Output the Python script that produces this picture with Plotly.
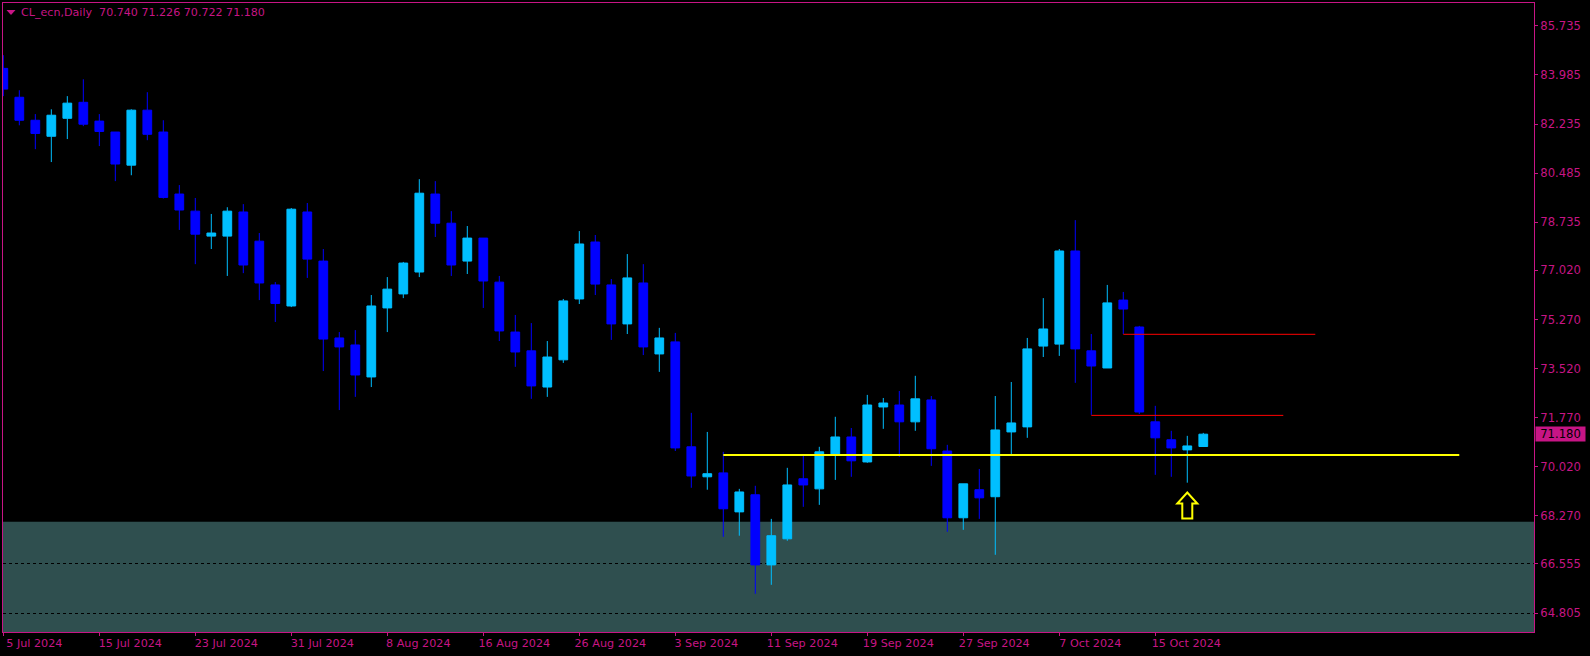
import plotly.graph_objects as go

PINK = "#C71585"
UP = "#00BFFF"
DOWN = "#0000FF"

opens = [84.22,83.19,82.37,81.80,82.44,83.01,82.34,81.95,80.77,82.73,
         81.95,79.74,79.13,78.24,78.24,79.10,78.06,76.50,75.75,79.10,
         77.35,74.61,74.36,73.22,75.68,76.18,76.96,79.74,78.70,77.35,
         78.17,76.60,74.82,74.15,72.86,73.83,76.00,78.03,76.50,75.11,
         76.57,74.04,74.47,70.73,69.66,69.80,68.41,69.02,66.52,67.45,
         69.59,69.23,70.44,71.08,70.19,72.15,72.22,71.62,72.40,70.58,
         68.20,69.20,68.95,71.26,71.44,74.32,74.39,77.71,74.15,73.54,
         75.96,75.00,71.62,70.98,70.62,70.74]
closes = [83.48,82.37,81.90,82.55,82.98,82.23,81.97,80.81,82.73,81.87,
          79.62,79.17,78.31,78.35,79.13,77.21,76.57,75.84,79.20,77.42,
          74.57,74.29,73.29,75.75,76.35,77.28,79.77,78.70,77.21,78.17,
          76.64,74.86,74.11,72.90,73.93,75.93,77.96,76.53,75.11,76.75,
          74.29,74.61,70.69,69.69,69.77,68.52,69.12,66.52,67.56,69.37,
          69.37,70.55,71.08,70.23,72.22,72.29,71.62,72.44,70.66,68.20,
          69.41,68.91,71.33,71.58,74.22,74.93,77.71,74.22,73.61,75.86,
          75.64,71.97,71.05,70.69,70.76,71.18]
highs = [84.69,83.44,82.59,82.76,83.23,83.83,82.59,81.95,82.76,83.37,
         82.37,80.06,79.60,79.03,79.27,79.38,78.35,76.60,79.24,79.42,
         77.78,74.82,74.89,76.14,76.78,77.32,80.27,80.20,79.13,78.60,
         78.17,76.82,75.43,75.14,74.50,76.00,78.42,78.28,76.71,77.60,
         77.24,74.97,74.79,71.94,71.26,70.55,69.23,69.34,68.16,69.98,
         70.41,70.73,71.80,71.40,72.58,72.47,72.72,73.26,72.54,70.80,
         69.41,69.94,72.54,73.04,74.61,76.03,77.78,78.81,74.75,76.50,
         76.25,75.04,72.19,71.30,71.12,71.226]
lows = [83.23,82.19,81.34,80.88,81.70,82.16,81.45,80.20,80.41,81.66,
        79.58,78.46,77.24,77.78,76.82,76.92,75.96,75.18,75.71,76.75,
        73.43,72.04,72.51,72.86,74.82,76.03,76.78,78.21,76.82,76.89,
        75.68,74.50,73.58,72.44,72.51,73.72,75.82,76.14,74.54,74.75,
        74.00,73.40,70.58,69.27,69.20,67.52,67.56,65.49,65.81,67.38,
        68.59,68.66,69.55,69.66,70.16,71.37,70.37,71.30,70.05,67.70,
        67.77,68.16,66.88,70.44,71.05,73.93,73.97,73.01,71.87,73.54,
        74.75,71.90,69.73,69.66,69.45,70.722]

x_tick_index = [0, 6, 12, 18, 24, 30, 36, 42, 48, 54, 60, 66, 72]
x_tick_labels = ["5 Jul 2024", "15 Jul 2024", "23 Jul 2024", "31 Jul 2024", "8 Aug 2024",
                 "16 Aug 2024", "26 Aug 2024", "3 Sep 2024", "11 Sep 2024", "19 Sep 2024",
                 "27 Sep 2024", "7 Oct 2024", "15 Oct 2024"]
y_ticks = [85.735, 83.985, 82.235, 80.485, 78.735, 77.020, 75.270,
           73.520, 71.770, 70.020, 68.270, 66.555, 64.805]

header = "CL_ecn,Daily  70.740 71.226 70.722 71.180"
last_price = 71.18
zone_top = 68.06
yellow_level, yellow_from, yellow_to = 70.44, 45, 91
red_upper_level, red_upper_from, red_upper_to = 74.74, 70, 82
red_lower_level, red_lower_from, red_lower_to = 71.85, 68, 80
arrow_bar, arrow_base = 74, 68.17
FONT_SIZE = 11.6

fig = go.Figure()
fig.add_trace(go.Candlestick(
    x=list(range(len(opens))), open=opens, high=highs, low=lows, close=closes,
    increasing=dict(line=dict(color=UP, width=1), fillcolor=UP),
    decreasing=dict(line=dict(color=DOWN, width=1), fillcolor=DOWN),
    whiskerwidth=0, hoverinfo="skip", showlegend=False,
))

# demand zone under the gridlines
fig.add_shape(type="rect", xref="paper", x0=0, x1=1, yref="y", y0=50, y1=zone_top,
              fillcolor="#2F4F4F", line_width=0, layer="below")
fig.add_shape(type="line", x0=red_upper_from, x1=red_upper_to, y0=red_upper_level, y1=red_upper_level,
              line=dict(color="#FF0000", width=1))
fig.add_shape(type="line", x0=red_lower_from, x1=red_lower_to, y0=red_lower_level, y1=red_lower_level,
              line=dict(color="#FF0000", width=1))
fig.add_shape(type="line", x0=yellow_from, x1=yellow_to, y0=yellow_level, y1=yellow_level,
              line=dict(color="#FFFF00", width=2))
fig.add_shape(type="path", xsizemode="pixel", xanchor=arrow_bar, ysizemode="pixel", yanchor=arrow_base,
              path="M-5,0 L5,0 L5,15 L10,15 L0,26 L-10,15 L-5,15 Z",
              line=dict(color="#FFFF00", width=2), fillcolor="#000000")
# collapse marker in the chart header
fig.add_shape(type="path", xref="paper", yref="paper", xsizemode="pixel", xanchor=0,
              ysizemode="pixel", yanchor=1, path="M3.5,-7 L12.5,-7 L8,-12 Z",
              line_width=0, fillcolor=PINK)

fig.add_annotation(text=header, xref="paper", yref="paper", x=0, y=1, xanchor="left", yanchor="middle",
                   xshift=16, yshift=-9, showarrow=False, font=dict(family="DejaVu Sans", size=11.1, color=PINK))
fig.add_annotation(text=f"{last_price:.3f}", xref="paper", yref="y", x=1, y=last_price, xanchor="left",
                   yanchor="middle", xshift=1, showarrow=False, bgcolor=PINK, width=49, height=14,
                   borderpad=0, font=dict(family="DejaVu Sans", size=FONT_SIZE, color="#000000"))

fig.update_layout(
    width=1590, height=656, margin=dict(l=3, r=56, t=3, b=24),
    paper_bgcolor="#000000", plot_bgcolor="#000000", boxgap=0.22,
    showlegend=False, font=dict(family="DejaVu Sans", size=FONT_SIZE, color=PINK),
    xaxis=dict(range=[-0.02, 95.67], rangeslider=dict(visible=False), showgrid=False, zeroline=False,
               tickmode="array", tickvals=x_tick_index, ticktext=x_tick_labels, tickangle=0,
               ticks="outside", ticklen=3, tickcolor=PINK, ticklabelshift=31, ticklabelstandoff=-2,
               showline=True, linecolor=PINK, linewidth=1, mirror=True,
               tickfont=dict(family="DejaVu Sans", size=11.2, color=PINK)),
    yaxis=dict(range=[64.128, 86.55], side="right", showgrid=True, gridcolor="#000000", griddash="3px,3px",
               gridwidth=1, zeroline=False, tickmode="array", tickvals=y_ticks,
               ticktext=[f"{v:.3f}" for v in y_ticks], ticks="outside", ticklen=3, tickcolor=PINK,
               showline=True, linecolor=PINK, linewidth=1, mirror=True,
               tickfont=dict(family="DejaVu Sans", size=FONT_SIZE, color=PINK)),
)

fig.write_html("out.html", config=dict(displayModeBar=False),
               post_script="document.body.style.margin='0';document.body.style.overflow='hidden';")
